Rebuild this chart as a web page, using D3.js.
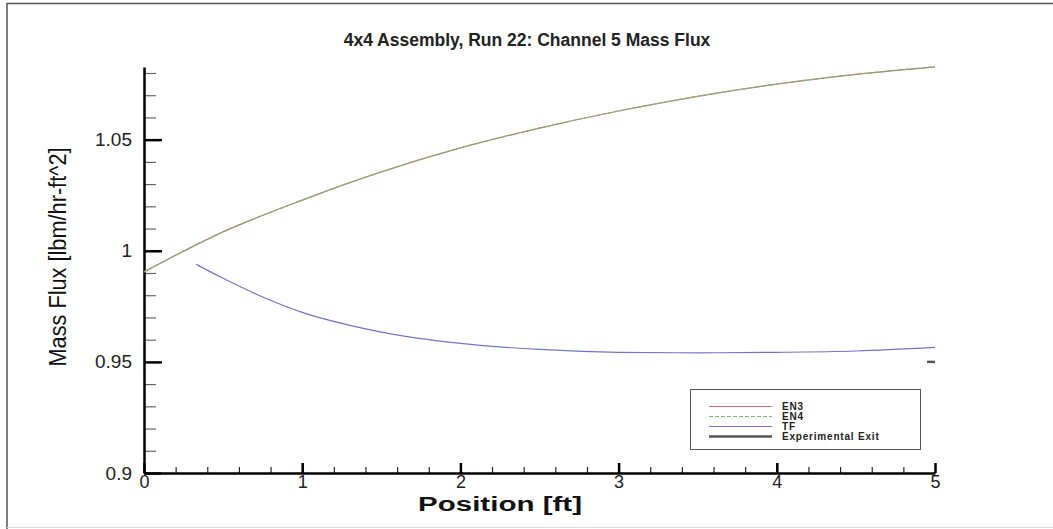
<!DOCTYPE html>
<html>
<head>
<meta charset="utf-8">
<script src="https://cdn.jsdelivr.net/npm/d3@7"></script>
<style>
  html, body { margin: 0; padding: 0; background: #fff; }
  svg { display: block; }
  text { font-family: Arial, "Liberation Sans", Helvetica, sans-serif; }
</style>
</head>
<body>
<svg id="chart" width="1053" height="529"></svg>
<script>
// Axial position along the channel [ft]
const en3Positions = [0, 0.5, 1, 1.5, 2, 2.5, 3, 3.5, 4, 4.5, 5];
// EN3 mass flux
const en3Values = [0.9905, 1.0085, 1.0228, 1.0355, 1.0463, 1.0552, 1.0629, 1.0695, 1.0750, 1.0794, 1.0828];
// EN4 mass flux (coincides with EN3)
const en4Values = [0.9905, 1.0085, 1.0228, 1.0355, 1.0463, 1.0552, 1.0629, 1.0695, 1.0750, 1.0794, 1.0828];
// TF positions and mass flux
const tfPositions = [0.33, 0.5, 0.75, 1, 1.25, 1.5, 2, 2.5, 3, 3.5, 4, 4.5, 5];
const tfValues = [0.9939, 0.9876, 0.9792, 0.9723, 0.9673, 0.9634, 0.9583, 0.9556, 0.9543, 0.9541, 0.9543, 0.9549, 0.9565];
// Experimental exit measurement
const expPositions = [4.95, 5];
const expValues = [0.95, 0.95];

const xTickValues = [0, 1, 2, 3, 4, 5];
const xTickLabels = ["0", "1", "2", "3", "4", "5"];
const yTickValues = [0.9, 0.95, 1, 1.05];
const yTickLabels = ["0.9", "0.95", "1", "1.05"];

const seriesNames = ["EN3", "EN4", "TF", "Experimental Exit"];

const svg = d3.select("#chart");
const W = 1053, H = 529;

// page frame
svg.append("path")
  .attr("d", `M7,${H} L7,3.5 L${W},3.5`)
  .attr("fill", "none").attr("stroke", "#555").attr("stroke-width", 1.5);
svg.append("line")
  .attr("x1", 7).attr("x2", W).attr("y1", 527.5).attr("y2", 527.5)
  .attr("stroke", "#ddd").attr("stroke-width", 1);

const x = d3.scaleLinear().domain([0, 5]).range([144, 935]);
const y = d3.scaleLinear().domain([0.9, 1.0827]).range([473, 67]);

// minor ticks
const xMinor = d3.range(0, 5.001, 0.2).filter(v => Math.abs(v - Math.round(v)) > 1e-6);
const yMinor = d3.range(0.91, 1.0811, 0.01).filter(v => Math.abs(v * 20 - Math.round(v * 20)) > 1e-6);

svg.append("g")
  .attr("transform", `translate(0,${y(0.9)})`)
  .call(d3.axisBottom(x).tickValues(xMinor).tickSizeInner(-6).tickSizeOuter(0).tickFormat(""))
  .call(g => g.select(".domain").remove())
  .call(g => g.selectAll("line").attr("stroke", "#222").attr("stroke-width", 1.2));

svg.append("g")
  .attr("transform", `translate(${x(0)},0)`)
  .call(d3.axisLeft(y).tickValues(yMinor).tickSizeInner(-12).tickSizeOuter(0).tickFormat(""))
  .call(g => g.select(".domain").remove())
  .call(g => g.selectAll("line").attr("stroke", "#666").attr("stroke-width", 1.2));

// major axes
const xAxis = svg.append("g")
  .attr("transform", `translate(0,${y(0.9)})`)
  .call(d3.axisBottom(x).tickValues(xTickValues).tickSizeInner(-10).tickSizeOuter(0)
    .tickPadding(2).tickFormat((d, i) => xTickLabels[i]));
xAxis.select(".domain").attr("stroke", "#000").attr("stroke-width", 2.5);
xAxis.selectAll(".tick line").attr("stroke", "#000").attr("stroke-width", 2.5);
xAxis.selectAll(".tick text").attr("font-size", 18).attr("fill", "#222")
  .attr("font-family", "Arial, 'Liberation Sans', sans-serif");

const yAxis = svg.append("g")
  .attr("transform", `translate(${x(0)},0)`)
  .call(d3.axisLeft(y).tickValues(yTickValues).tickSizeInner(-18).tickSizeOuter(0)
    .tickPadding(12).tickFormat((d, i) => yTickLabels[i]));
yAxis.select(".domain").attr("stroke", "#000").attr("stroke-width", 2.5);
yAxis.selectAll(".tick line").attr("stroke", "#000").attr("stroke-width", 2.5);
yAxis.selectAll(".tick text").attr("font-size", 19).attr("fill", "#222")
  .attr("font-family", "Arial, 'Liberation Sans', sans-serif");

// series lines
const line = d3.line().x(d => x(d[0])).y(d => y(d[1])).curve(d3.curveMonotoneX);

svg.append("path")
  .datum(en3Positions.map((p, i) => [p, en3Values[i]]))
  .attr("d", line).attr("fill", "none")
  .attr("stroke", "#c87070").attr("stroke-width", 1.2);

svg.append("path")
  .datum(en3Positions.map((p, i) => [p, en4Values[i]]))
  .attr("d", line).attr("fill", "none")
  .attr("stroke", "#78b878").attr("stroke-width", 1.2).attr("stroke-dasharray", "4,2");

svg.append("path")
  .datum(tfPositions.map((p, i) => [p, tfValues[i]]))
  .attr("d", line).attr("fill", "none")
  .attr("stroke", "#7474c4").attr("stroke-width", 1.2);

svg.append("path")
  .datum(expPositions.map((p, i) => [p, expValues[i]]))
  .attr("d", d3.line().x(d => x(d[0])).y(d => y(d[1])))
  .attr("fill", "none").attr("stroke", "#555").attr("stroke-width", 2.5);

// title
svg.append("text")
  .attr("x", 527).attr("y", 46)
  .attr("text-anchor", "middle")
  .attr("font-size", 17.5).attr("font-weight", "bold").attr("fill", "#222")
  .text("4x4 Assembly, Run 22: Channel 5 Mass Flux");

// axis titles
svg.append("text")
  .attr("x", 500).attr("y", 511)
  .attr("text-anchor", "middle")
  .attr("font-size", 20).attr("font-weight", "bold").attr("fill", "#111")
  .attr("textLength", 164).attr("lengthAdjust", "spacingAndGlyphs")
  .text("Position [ft]");

svg.append("text")
  .attr("transform", `translate(66,257) rotate(-90)`)
  .attr("text-anchor", "middle")
  .attr("font-size", 23).attr("fill", "#111")
  .attr("textLength", 219).attr("lengthAdjust", "spacingAndGlyphs")
  .text("Mass Flux [lbm/hr-ft^2]");

// legend
const lg = svg.append("g");
lg.append("rect")
  .attr("x", 690.5).attr("y", 389.5).attr("width", 230).attr("height", 60)
  .attr("fill", "#fff").attr("stroke", "#555").attr("stroke-width", 1);

const legendStyles = [
  { stroke: "#c87070", width: 1.2, dash: null },
  { stroke: "#78b878", width: 1.2, dash: "4,2" },
  { stroke: "#7474c4", width: 1.2, dash: null },
  { stroke: "#555", width: 2.5, dash: null }
];
seriesNames.forEach((name, i) => {
  const yy = 406.5 + i * 10;
  lg.append("line")
    .attr("x1", 709).attr("x2", 772).attr("y1", yy).attr("y2", yy)
    .attr("stroke", legendStyles[i].stroke).attr("stroke-width", legendStyles[i].width)
    .attr("stroke-dasharray", legendStyles[i].dash);
  lg.append("text")
    .attr("x", 782).attr("y", yy + 3.5)
    .attr("font-size", 10).attr("font-weight", "bold").attr("fill", "#222")
    .attr("letter-spacing", 0.8)
    .text(name);
});
</script>
</body>
</html>
